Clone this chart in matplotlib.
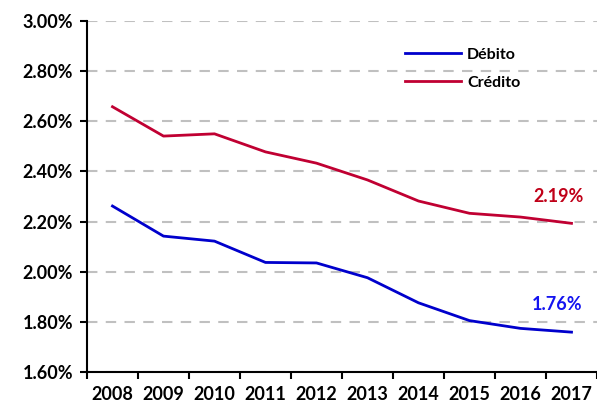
import matplotlib
matplotlib.use("Agg")
import matplotlib.pyplot as plt
from matplotlib.ticker import FuncFormatter, FixedLocator
import numpy as np

years = ["2008", "2009", "2010", "2011", "2012", "2013", "2014", "2015", "2016", "2017"]
debito = [2.262, 2.142, 2.122, 2.037, 2.035, 1.976, 1.876, 1.805, 1.774, 1.759]
credito = [2.658, 2.541, 2.550, 2.478, 2.433, 2.366, 2.282, 2.233, 2.218, 2.193]

blue = "#0000CC"
red = "#C00032"
wt = 'bold'

plt.rcParams['font.family'] = ['Lato', 'DejaVu Sans']
plt.rcParams['font.weight'] = wt

fig = plt.figure(figsize=(5.97, 4.04), dpi=100)
ax = fig.add_axes([0.1457, 0.0792, 0.8543, 0.8688])

x = np.arange(len(years))
ax.plot(x, debito, color=blue, lw=2, label="Débito", zorder=3)
ax.plot(x, credito, color=red, lw=2, label="Crédito", zorder=3)

ax.set_xlim(-0.5, len(years) - 0.5)
ax.set_ylim(1.6, 3.0)
ax.set_yticks(np.arange(1.6, 3.001, 0.2))
ax.yaxis.set_major_formatter(FuncFormatter(lambda v, p: f"{v:.2f}%"))
ax.grid(axis='y', color='#c0c0c0', ls=(0, (5, 4)), lw=1.5, zorder=1)

# ticks between the years, labels centred on each year
ax.xaxis.set_major_locator(FixedLocator(np.arange(-0.5, len(years), 1.0)))
ax.xaxis.set_minor_locator(FixedLocator(x))
ax.set_xticklabels([], minor=False)
ax.set_xticklabels(years, minor=True, fontsize=13, fontweight=wt)
ax.tick_params(axis='x', which='major', length=5, width=1.5, direction='out')
ax.tick_params(axis='x', which='minor', length=0, pad=10)
ax.tick_params(axis='y', length=5, width=1.5, labelsize=13, pad=5)
for t in ax.get_yticklabels():
    t.set_fontweight(wt)

for s in ['top', 'right']:
    ax.spines[s].set_visible(False)
for s in ['left', 'bottom']:
    ax.spines[s].set_linewidth(1.5)
ax.spines['bottom'].set_zorder(4)

ax.annotate(f"{credito[-1]:.2f}%", (x[-1], credito[-1]), xytext=(-9, 19.5),
            textcoords='offset points', ha='center', va='center',
            color="#C00018", fontsize=13, fontweight=wt)
ax.annotate(f"{debito[-1]:.2f}%", (x[-1], debito[-1]), xytext=(-10, 20),
            textcoords='offset points', ha='center', va='center',
            color='#1414F0', fontsize=13, fontweight=wt)

leg = ax.legend(loc='upper left', bbox_to_anchor=(0.595, 0.965), frameon=False,
                prop={'size': 11.5, 'weight': wt}, handlelength=3.5,
                handletextpad=0.4, labelspacing=0.85)

fig.savefig("out.png", dpi=100)
